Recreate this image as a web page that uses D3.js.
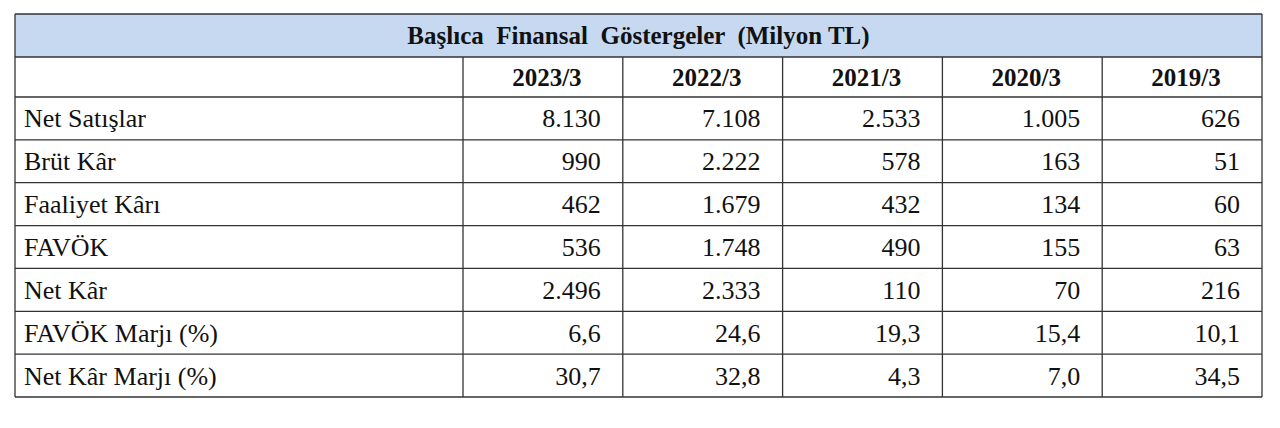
<!DOCTYPE html>
<html><head><meta charset="utf-8">
<script src="https://cdn.jsdelivr.net/npm/d3@7"></script>
<style>body{margin:0;background:#fff}</style>
</head><body><div id="chart"></div>
<script>
var title = "Başlıca  Finansal  Göstergeler  (Milyon TL)";
var years = ["2023/3","2022/3","2021/3","2020/3","2019/3"];
var rowLabels = ["Net Satışlar","Brüt Kâr","Faaliyet Kârı","FAVÖK","Net Kâr","FAVÖK Marjı (%)","Net Kâr Marjı (%)"];
var netSatislar = ["8.130","7.108","2.533","1.005","626"];
var brutKar = ["990","2.222","578","163","51"];
var faaliyetKari = ["462","1.679","432","134","60"];
var favok = ["536","1.748","490","155","63"];
var netKar = ["2.496","2.333","110","70","216"];
var favokMarji = ["6,6","24,6","19,3","15,4","10,1"];
var netKarMarji = ["30,7","32,8","4,3","7,0","34,5"];
var values = [netSatislar,brutKar,faaliyetKari,favok,netKar,favokMarji,netKarMarji];

var W = 1280, H = 428;
var tLeft = 15, tRight = 1262, tTop = 14, titleH = 43, headH = 40, tBottom = 397;
var firstColW = 448;

var svg = d3.select("#chart").append("svg").attr("width", W).attr("height", H)
  .style("font-family", "'Liberation Serif', 'Times New Roman', serif");

var x = d3.scaleBand().domain(years).range([tLeft + firstColW, tRight]);
var y = d3.scaleBand().domain(rowLabels).range([tTop + titleH + headH, tBottom]);

// title row
svg.append("rect").attr("x", tLeft).attr("y", tTop).attr("width", tRight - tLeft).attr("height", titleH)
  .attr("fill", "#c6d9f1");
svg.append("text").attr("x", (tLeft + tRight) / 2).attr("y", tTop + titleH / 2 + 8)
  .attr("text-anchor", "middle").attr("font-size", 25).attr("font-weight", "bold").attr("fill", "#111")
  .style("white-space", "pre").attr("xml:space", "preserve")
  .text(title);

// year headers
svg.selectAll(".yr").data(years).enter().append("text")
  .attr("x", function(d){ return x(d) + x.bandwidth() / 2 + 4; })
  .attr("y", tTop + titleH + headH / 2 + 9)
  .attr("text-anchor", "middle").attr("font-size", 25).attr("font-weight", "bold").attr("fill", "#111")
  .text(function(d){ return d; });

// row labels
svg.selectAll(".lbl").data(rowLabels).enter().append("text")
  .attr("x", tLeft + 9)
  .attr("y", function(d){ return y(d) + y.bandwidth() / 2 + 9; })
  .attr("font-size", 26).attr("fill", "#111")
  .text(function(d){ return d; });

// values
rowLabels.forEach(function(r, i){
  svg.selectAll(".v" + i).data(values[i]).enter().append("text")
    .attr("x", function(d, j){ return x(years[j]) + x.bandwidth() - 22; })
    .attr("y", y(r) + y.bandwidth() / 2 + 9)
    .attr("text-anchor", "end").attr("font-size", 26).attr("fill", "#111")
    .text(function(d){ return d; });
});

// grid lines
var g = svg.append("g").attr("stroke", "#333").attr("stroke-width", 1.3);
var hs = [tTop, tTop + titleH, tTop + titleH + headH].concat(rowLabels.map(function(d){ return y(d) + y.bandwidth(); }));
hs.forEach(function(v){
  g.append("line").attr("x1", tLeft).attr("x2", tRight).attr("y1", v).attr("y2", v);
});
g.append("line").attr("x1", tLeft).attr("x2", tLeft).attr("y1", tTop).attr("y2", tBottom);
g.append("line").attr("x1", tRight).attr("x2", tRight).attr("y1", tTop).attr("y2", tBottom);
years.forEach(function(d){
  g.append("line").attr("x1", x(d)).attr("x2", x(d)).attr("y1", tTop + titleH).attr("y2", tBottom);
});
</script></body></html>
